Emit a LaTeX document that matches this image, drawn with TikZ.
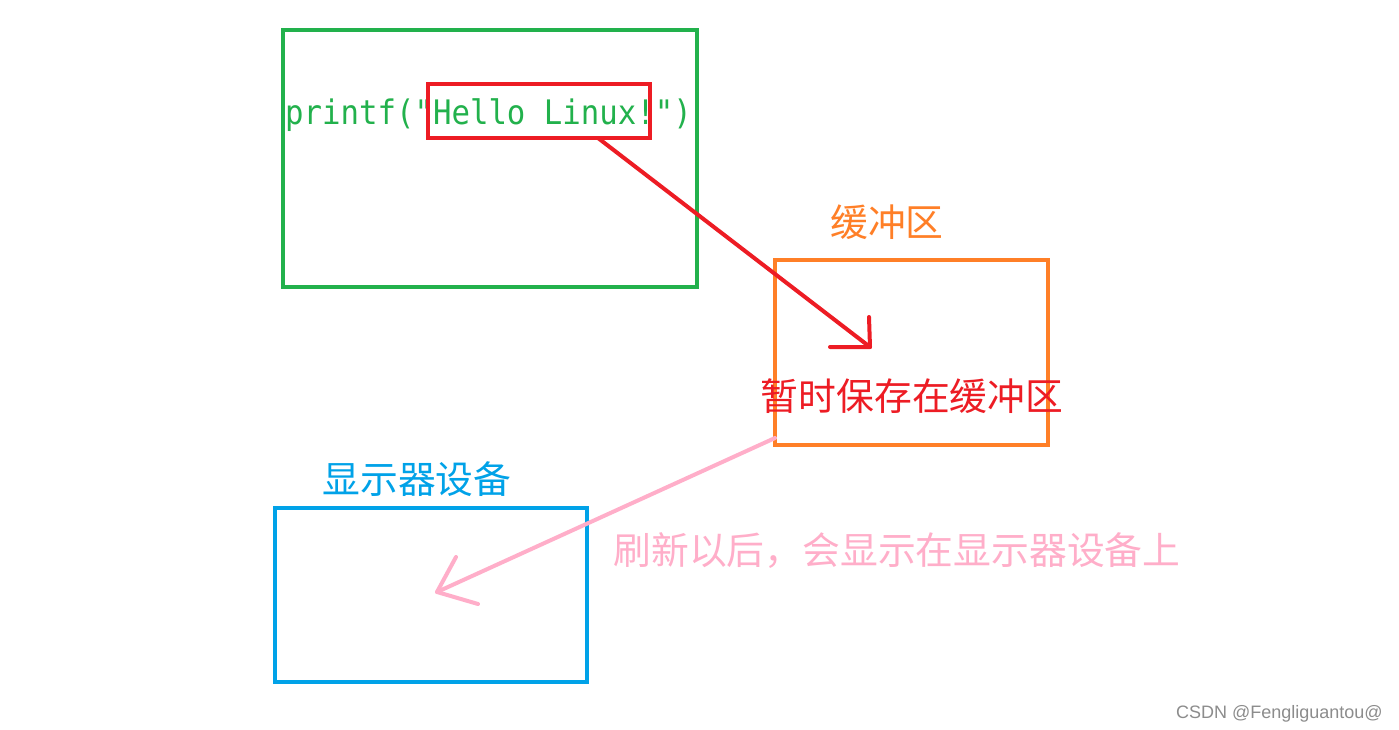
\documentclass[tikz,border=0pt]{standalone}
\usepackage{fontspec}
\setmainfont{Noto Sans CJK SC}
\newfontfamily\monof{DejaVu Sans Mono}
\newfontfamily\wmf{Liberation Sans}
\definecolor{pgreen}{HTML}{22B14C}
\definecolor{pred}{HTML}{ED1C24}
\definecolor{porange}{HTML}{FF7F27}
\definecolor{pblue}{HTML}{00A2E8}
\definecolor{ppink}{HTML}{FFAEC9}
\tikzset{
  framebox/.style={draw=#1, line width=4, inner sep=0, outer sep=0},
  cjklabel/.style={text=#1, inner sep=0, font=\fontsize{37.8}{42}\selectfont},
  stroke/.style={draw=#1, line width=4, line cap=round, line join=round},
}
\begin{document}
\begin{tikzpicture}[x=1pt,y=-1pt]
\useasboundingbox[fill=white] (0,0) rectangle (1399,730);
% boxes
\node[framebox=pgreen, minimum width=414, minimum height=257] (prog) at (490,158.5) {};
\node[framebox=porange, minimum width=273, minimum height=185] (buf) at (911.5,352.5) {};
\node[framebox=pblue, minimum width=312, minimum height=174] (disp) at (431,595) {};
% code text
\node[anchor=base west, inner sep=0, text=pgreen, yscale=1.1, font=\monof\fontsize{30.7}{34}\selectfont] (code) at (285,125) {printf("Hello Linux!")};
\node[framebox=pred, minimum width=222, minimum height=54] (hello) at (539,111) {};
% labels
\node[cjklabel=porange] (buflabel) at (887,222) {缓冲区};
\node[cjklabel=pred] (bufnote) at (912,396) {暂时保存在缓冲区};
\node[cjklabel=pblue] (displabel) at (417,479) {显示器设备};
\node[cjklabel=ppink] (flushnote) at (897,551) {刷新以后，会显示在显示器设备上};
\node[anchor=base east, inner sep=0, text=black!45, font=\wmf\fontsize{18}{20}\selectfont] (wm) at (1383,718) {CSDN @Fengliguantou@};
% red arrow
\coordinate (rs) at (hello.south -| 598,0);
\coordinate (rt) at (870,347);
\draw[stroke=pred] (rs) -- (rt);
\draw[stroke=pred] (869,317) -- (rt) -- (830,347);
% pink arrow
\coordinate (ps) at (buf.south west |- 0,438);
\coordinate (pt) at (437,592);
\draw[stroke=ppink] (ps) -- (pt);
\draw[stroke=ppink] (456,557) -- (pt) -- (478,604);
\end{tikzpicture}
\end{document}
